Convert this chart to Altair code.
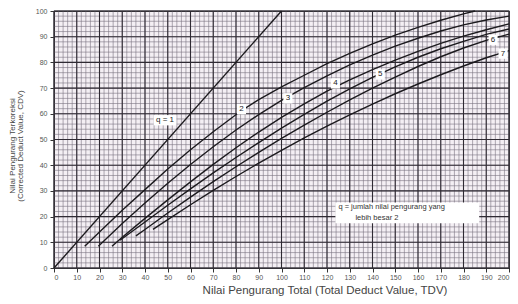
import altair as alt
import pandas as pd

# ---------------- data ----------------
x_ticks = list(range(0, 201, 10))
y_ticks = list(range(0, 101, 10))
x_minor = list(range(0, 201, 2))
y_minor = list(range(0, 101, 2))

tdv_q1 = [0, 100]
cdv_q1 = [0, 100]
tdv_q2 = [13.5, 20, 30, 40, 50, 60, 70, 82, 90, 100, 110, 120, 130, 140, 150, 160, 170, 180, 185]
cdv_q2 = [8.5, 14, 22.5, 30.5, 38.5, 46, 53, 61, 65.5, 70.5, 75, 79.5, 83.5, 87.2, 90.6, 93.6, 96.4, 98.9, 100]
tdv_q3 = [19.5, 30, 40, 50, 60, 70, 80, 90, 100, 110, 120, 130, 140, 150, 160, 170, 180, 190, 200]
cdv_q3 = [8.5, 17.3, 25.3, 33, 40.3, 47.2, 53.7, 59.7, 65.2, 70.2, 74.8, 79, 82.8, 86.3, 89.4, 92.2, 94.6, 96.5, 98]
tdv_q4 = [25.5, 30, 40, 50, 60, 70, 80, 90, 100, 110, 120, 130, 140, 150, 160, 170, 180, 190, 200]
cdv_q4 = [8.5, 12, 19.3, 26.5, 33.5, 40.3, 46.8, 52.9, 58.6, 63.9, 68.8, 73.2, 77.2, 80.9, 84.3, 87.4, 90.2, 92.7, 95]
tdv_q5 = [29, 40, 50, 60, 70, 80, 90, 100, 110, 120, 130, 140, 150, 160, 170, 180, 190, 200]
cdv_q5 = [10.8, 17.9, 24.4, 30.8, 37, 43, 48.8, 54.4, 59.8, 64.9, 69.7, 74.2, 78.3, 82, 85.3, 88.2, 90.9, 93]
tdv_q6 = [36, 40, 50, 60, 70, 80, 90, 100, 110, 120, 130, 140, 150, 160, 170, 180, 190, 200]
cdv_q6 = [12.5, 15, 21.4, 27.6, 33.6, 39.4, 45, 50.4, 55.6, 60.6, 65.4, 70, 74.3, 78.4, 82.2, 85.6, 88.6, 91]
tdv_q7 = [43.5, 50, 60, 70, 80, 90, 100, 110, 120, 130, 140, 150, 160, 170, 180, 190, 200]
cdv_q7 = [15, 18.8, 24.6, 30.2, 35.6, 40.8, 45.8, 50.6, 55.2, 59.6, 63.8, 67.8, 71.6, 75.2, 78.6, 81.8, 84.6]

label_text = ["q = 1", "2", "3", "4", "5", "6", "7"]
label_tdv = [48.8, 82.4, 102.8, 123.7, 143.4, 193.0, 197.4]
label_cdv = [57.5, 61.8, 66.0, 71.8, 75.3, 88.8, 83.4]
label_halfw = [5.0, 2.0, 2.0, 2.0, 2.0, 2.0, 2.0]

note_lines = ["q = jumlah nilai pengurang yang", "lebih besar 2"]
note_tdv = [125.0, 132.5]
note_cdv = [23.6, 19.5]
note_box_tdv = [123.7, 186.9]
note_box_cdv = [17.4, 25.5]

x_title = "Nilai Pengurang Total (Total Deduct Value, TDV)"
y_title = ["Nilai Pengurang Terkoreksi", "(Corrected Deduct Value, CDV)"]

# ---------------- tables ----------------
series = [
    ("1", tdv_q1, cdv_q1), ("2", tdv_q2, cdv_q2), ("3", tdv_q3, cdv_q3),
    ("4", tdv_q4, cdv_q4), ("5", tdv_q5, cdv_q5), ("6", tdv_q6, cdv_q6),
    ("7", tdv_q7, cdv_q7),
]
rows = []
for q, xs_, ys_ in series:
    for i, (a, b) in enumerate(zip(xs_, ys_)):
        rows.append({"q": q, "tdv": a, "cdv": b, "i": i})
curves = pd.DataFrame(rows)

labels = pd.DataFrame({
    "t": label_text, "x": label_tdv, "y": label_cdv,
    "x0": [a - w for a, w in zip(label_tdv, label_halfw)],
    "x1": [a + w for a, w in zip(label_tdv, label_halfw)],
    "y0": [b - 2.0 for b in label_cdv],
    "y1": [b + 2.0 for b in label_cdv],
})
notes = pd.DataFrame({"t": note_lines, "x": note_tdv, "y": note_cdv})
note_box = pd.DataFrame({"x0": [note_box_tdv[0]], "x1": [note_box_tdv[1]],
                         "y0": [note_box_cdv[0]], "y1": [note_box_cdv[1]]})

xs = alt.Scale(domain=[0, 200], nice=False, zero=False)
ys = alt.Scale(domain=[0, 100], nice=False, zero=False)

axis_common = dict(labelFontSize=7, labelColor="#555555", labelFont="Liberation Sans",
                   tickSize=4, tickColor="#333333", domainColor="#222222",
                   grid=False, title=None)
x_axis = alt.Axis(values=x_ticks, labelPadding=1, labelOverlap=False, **axis_common)
y_axis = alt.Axis(values=y_ticks, labelPadding=3, **axis_common)

minor_v = alt.Chart(pd.DataFrame({"tdv": x_minor})).mark_rule(
    color="#7a7280", strokeWidth=0.7, opacity=0.85
).encode(x=alt.X("tdv:Q", scale=xs, axis=x_axis))
minor_h = alt.Chart(pd.DataFrame({"cdv": y_minor})).mark_rule(
    color="#7a7280", strokeWidth=0.7, opacity=0.85
).encode(y=alt.Y("cdv:Q", scale=ys, axis=y_axis))
major_v = alt.Chart(pd.DataFrame({"tdv": x_ticks})).mark_rule(
    color="#2f2a33", strokeWidth=1.1
).encode(x=alt.X("tdv:Q", scale=xs, axis=x_axis))
major_h = alt.Chart(pd.DataFrame({"cdv": y_ticks})).mark_rule(
    color="#2f2a33", strokeWidth=1.1
).encode(y=alt.Y("cdv:Q", scale=ys, axis=y_axis))

lines = alt.Chart(curves).mark_line(color="#1c1a1e", strokeWidth=1.4).encode(
    x=alt.X("tdv:Q", scale=xs, axis=x_axis),
    y=alt.Y("cdv:Q", scale=ys, axis=y_axis),
    detail="q:N",
    order="i:Q",
)

lab_box = alt.Chart(labels).mark_rect(fill="white").encode(
    x=alt.X("x0:Q", scale=xs, axis=x_axis), x2="x1:Q",
    y=alt.Y("y0:Q", scale=ys, axis=y_axis), y2="y1:Q",
)
lab_txt = alt.Chart(labels).mark_text(
    font="Liberation Sans", fontSize=8, color="#222222", baseline="middle", align="center"
).encode(x=alt.X("x:Q", scale=xs, axis=x_axis), y=alt.Y("y:Q", scale=ys, axis=y_axis), text="t:N")

nbox = alt.Chart(note_box).mark_rect(fill="white").encode(
    x=alt.X("x0:Q", scale=xs, axis=x_axis), x2="x1:Q",
    y=alt.Y("y0:Q", scale=ys, axis=y_axis), y2="y1:Q",
)
ntxt = alt.Chart(notes).mark_text(
    font="Liberation Sans", fontSize=7.5, color="#333333", baseline="middle", align="left"
).encode(x=alt.X("x:Q", scale=xs, axis=x_axis), y=alt.Y("y:Q", scale=ys, axis=y_axis), text="t:N")

title_df = pd.DataFrame({"t": [x_title]})
xt = alt.Chart(title_df).mark_text(
    font="Liberation Sans", fontSize=11.5, color="#444444", align="center", baseline="middle"
).encode(x=alt.value(271), y=alt.value(279.5), text="t:N")

yt1 = alt.Chart(pd.DataFrame({"t": [y_title[0]]})).mark_text(
    font="Liberation Sans", fontSize=8, color="#444444", align="center", baseline="middle", angle=270
).encode(x=alt.value(-41), y=alt.value(135), text="t:N")
yt2 = alt.Chart(pd.DataFrame({"t": [y_title[1]]})).mark_text(
    font="Liberation Sans", fontSize=8, color="#444444", align="center", baseline="middle", angle=270
).encode(x=alt.value(-33), y=alt.value(135), text="t:N")

chart = alt.layer(
    minor_v, minor_h, major_v, major_h, lines, lab_box, lab_txt, nbox, ntxt,
    xt, yt1, yt2
).properties(
    width=455, height=257,
    padding={"left": 46, "top": 3, "right": 1, "bottom": 28},
    autosize=alt.AutoSizeParams(type="none"),
    background="white",
).configure_view(stroke="#222222", strokeWidth=1.2, fill="#f4eff4")

chart.save("out.html", embed_options={"renderer": "svg", "actions": False})
